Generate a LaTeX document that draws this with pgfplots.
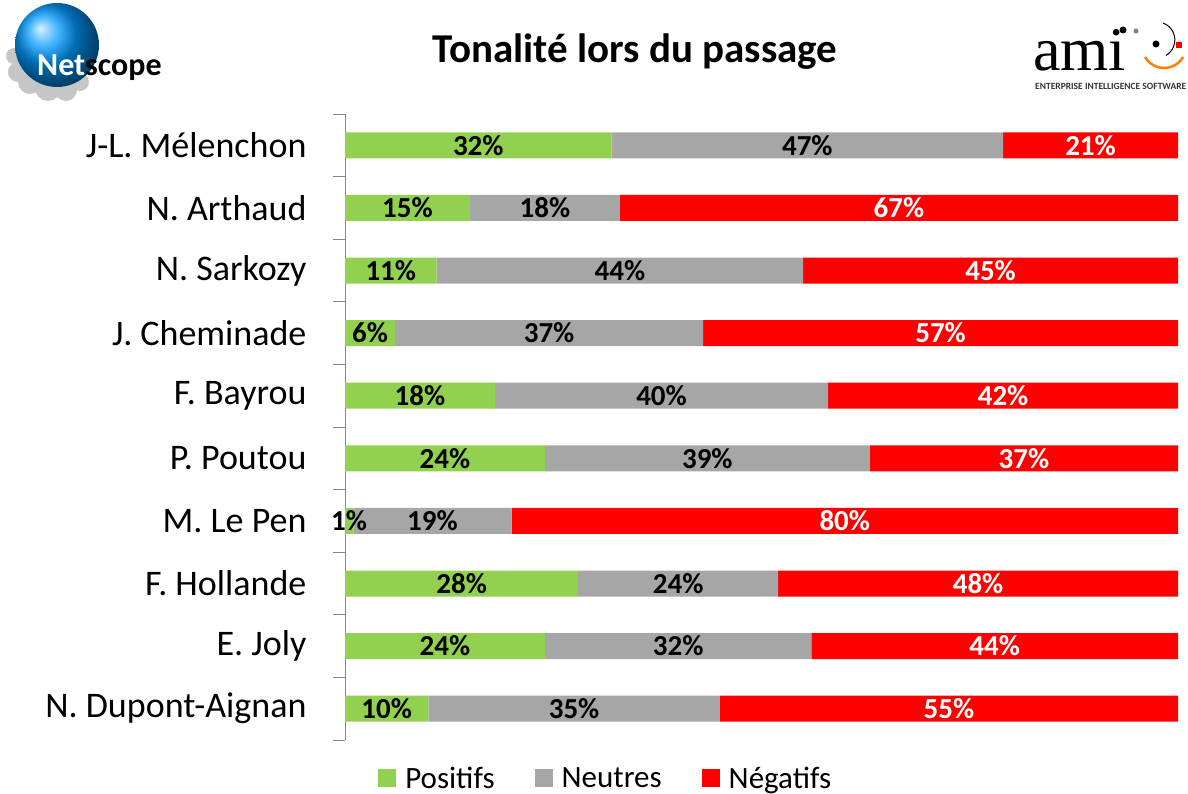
\documentclass[border=0pt]{standalone}
\usepackage{pgfplots}
\pgfplotsset{compat=1.18}
\usepackage{pgfplotstable}
\usepackage{fontspec}
\setmainfont{Carlito}
\newfontfamily\serifami{Liberation Serif}
\definecolor{pos}{HTML}{92D050}
\definecolor{neu}{HTML}{A6A6A6}
\definecolor{neg}{HTML}{FF0000}
\definecolor{axgray}{HTML}{868686}
\pgfplotstableread{
pos neu neg
32 47 21
15 18 67
11 44 45
6 37 57
18 40 42
24 39 37
1 19 80
28 24 48
24 32 44
10 35 55
}\data
\begin{document}
\begin{tikzpicture}
\path[use as bounding box] (0bp,0bp) rectangle (1188bp,794bp);
% Netscope logo (approximation)
\foreach \cx/\cy/\r in {18/722/10, 30/712/12, 48/706/13, 66/704/11, 14/738/8, 80/712/9}{
  \fill[gray!45] (\cx bp,\cy bp) circle (\r bp);
}
\shade[ball color=cyan!60!blue] (57bp,749bp) circle (42bp);
\node[anchor=base west, font=\bfseries\fontsize{32bp}{34bp}\selectfont, text=white, inner sep=0pt] at (37bp,718bp) {Net};
\node[anchor=base west, font=\bfseries\fontsize{32bp}{34bp}\selectfont, text=black, inner sep=0pt] at (85bp,718bp) {scope};
% ami logo (approximation)
\node[anchor=base west, font=\serifami\fontsize{62bp}{64bp}\selectfont, inner sep=0pt, text depth=0pt] at (1033bp,723bp) {ami};
\node[anchor=west, font=\bfseries\fontsize{9.5bp}{10bp}\selectfont, inner sep=0pt, text=black!80] at (1035bp,708bp) {ENTERPRISE INTELLIGENCE SOFTWARE};
\fill (1123bp,764bp) circle (3.5bp);
\fill[gray] (1136bp,763bp) circle (2.5bp);
\fill (1156bp,750bp) circle (3.5bp);
\fill[red] (1176bp,746bp) rectangle (1182bp,752bp);
\draw[orange, line width=2.5bp] (1145bp,737bp) arc (210:330:22bp);
\draw[black, line width=1bp] (1163bp,771bp) arc (70:-60:18bp);
% Title
\node[font=\bfseries\fontsize{41bp}{44bp}\selectfont] at (635bp,742bp) {Tonalité lors du passage};
\begin{axis}[
 at={(345bp,54bp)}, anchor=south west, scale only axis,
 width=833bp, height=626bp,
 xbar stacked, bar width=26bp,
 xmin=0, xmax=100, ymin=0.5, ymax=10.5, y dir=reverse,
 axis x line=none, axis y line=left,
 axis line style={-, draw=axgray, line width=1bp},
 ytick={1,...,10},
 yticklabels={J-L. Mélenchon, N. Arthaud, N. Sarkozy, J. Cheminade, F. Bayrou, P. Poutou, M. Le Pen, F. Hollande, E. Joly, N. Dupont-Aignan},
 major tick length=0pt,
 minor ytick={0.5,1.5,...,10.5}, minor tick length=12bp, tick align=outside,
 minor tick style={draw=axgray, line width=1bp},
 yticklabel style={font=\fontsize{36bp}{40bp}\selectfont, xshift=-35bp},
 point meta=rawx,
 nodes near coords={\pgfmathprintnumber[assume math mode=true]{\pgfplotspointmeta}\%},
 every node near coord/.append style={font=\bfseries\fontsize{29bp}{32bp}\selectfont, anchor=center, text=black},
 legend style={at={(0.313,-0.061)}, anchor=center, legend columns=3, draw=none,
   font=\fontsize{31bp}{34bp}\selectfont,
   /tikz/every odd column/.append style={column sep=7bp},
   /tikz/every even column/.append style={column sep=38bp}},
 legend image code/.code={\fill[#1] (0bp,-9bp) rectangle (18bp,9bp);},
]
\addplot[fill=pos, draw=none] table[x=pos, y expr=\coordindex+1] {\data};
\addlegendentry{Positifs}
\addplot[fill=neu, draw=none] table[x=neu, y expr=\coordindex+1] {\data};
\addlegendentry{Neutres}
\addplot[fill=neg, draw=none, every node near coord/.append style={text=white}] table[x=neg, y expr=\coordindex+1] {\data};
\addlegendentry{Négatifs}
\end{axis}
\end{tikzpicture}
\end{document}
